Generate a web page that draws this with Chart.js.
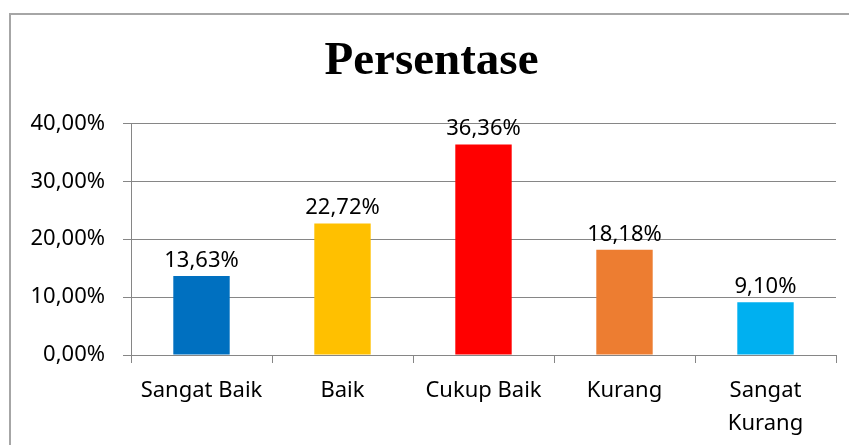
<!DOCTYPE html>
<html>
<head>
<meta charset="utf-8">
<script src="https://cdn.jsdelivr.net/npm/chart.js@4.4.0/dist/chart.umd.min.js"></script>
<style>
    html, body { margin: 0; padding: 0; background: #fff; overflow: hidden; }
    #wrap { position: relative; width: 849px; height: 445px; overflow: hidden; }
    #frame { position: absolute; left: 9px; top: 13px; width: 900px; height: 500px; border: 2px solid #a6a6a6; }
    #chart { position: absolute; left: 0; top: 0; }
</style>
</head>
<body>
<div id="wrap">
    <div id="frame"></div>
    <canvas id="chart" width="849" height="445"></canvas>
</div>
<script>
const categories = ['Sangat Baik', 'Baik', 'Cukup Baik', 'Kurang', ['Sangat', 'Kurang']];
const percentages = [13.63, 22.72, 36.36, 18.18, 9.10];
const barColors = ['#0070C0', '#FFC000', '#FF0000', '#ED7D31', '#00B0F0'];
const yTicks = [0, 10, 20, 30, 40];

const sansFont = "'Noto Sans', 'Open Sans', sans-serif";

function formatPercent(v) {
    return v.toFixed(2).replace('.', ',') + '%';
}

// draws the value above each bar
const valueLabels = {
    id: 'valueLabels',
    afterDatasetsDraw(chart) {
        const ctx = chart.ctx;
        const meta = chart.getDatasetMeta(0);
        ctx.save();
        ctx.font = '22px ' + sansFont;
        ctx.fillStyle = '#000';
        ctx.textAlign = 'center';
        ctx.textBaseline = 'alphabetic';
        meta.data.forEach((bar, i) => {
            ctx.fillText(formatPercent(percentages[i]), bar.x, bar.y - 9);
        });
        ctx.restore();
    }
};

const ctx = document.getElementById('chart').getContext('2d');
new Chart(ctx, {
    type: 'bar',
    data: {
        labels: categories,
        datasets: [{
            label: 'Persentase',
            data: percentages,
            backgroundColor: barColors,
            borderWidth: 0,
            barPercentage: 0.4,
            categoryPercentage: 1.0
        }]
    },
    options: {
        responsive: false,
        animation: false,
        devicePixelRatio: 1,
        layout: {
            padding: { left: 27, right: 13, top: 0, bottom: 0 }
        },
        plugins: {
            legend: { display: false },
            tooltip: { enabled: false },
            title: {
                display: true,
                text: 'Persentase',
                color: '#000',
                font: { family: "'Liberation Serif', 'Times New Roman', serif", size: 47, weight: 'bold', lineHeight: 1.2 },
                padding: { top: 34, bottom: 33 }
            }
        },
        scales: {
            x: {
                grid: {
                    display: true,
                    drawOnChartArea: false,
                    drawTicks: true,
                    tickLength: 8,
                    color: '#868686',
                    offset: true
                },
                border: { color: '#868686', width: 1 },
                ticks: {
                    color: '#000',
                    font: { family: sansFont, size: 22, lineHeight: 1.5 },
                    padding: 11,
                    maxRotation: 0,
                    autoSkip: false
                },
                afterFit(scale) { scale.height = 90; }
            },
            y: {
                min: 0,
                max: 40,
                afterBuildTicks(scale) { scale.ticks = yTicks.map(v => ({ value: v })); },
                grid: {
                    color: '#868686',
                    tickLength: 8,
                    lineWidth: 1
                },
                border: { color: '#868686', width: 1 },
                ticks: {
                    color: '#000',
                    font: { family: sansFont, size: 22 },
                    padding: 18,
                    callback: v => formatPercent(v)
                },
                afterFit(scale) { scale.width = 104; }
            }
        }
    },
    plugins: [valueLabels]
});
</script>
</body>
</html>
